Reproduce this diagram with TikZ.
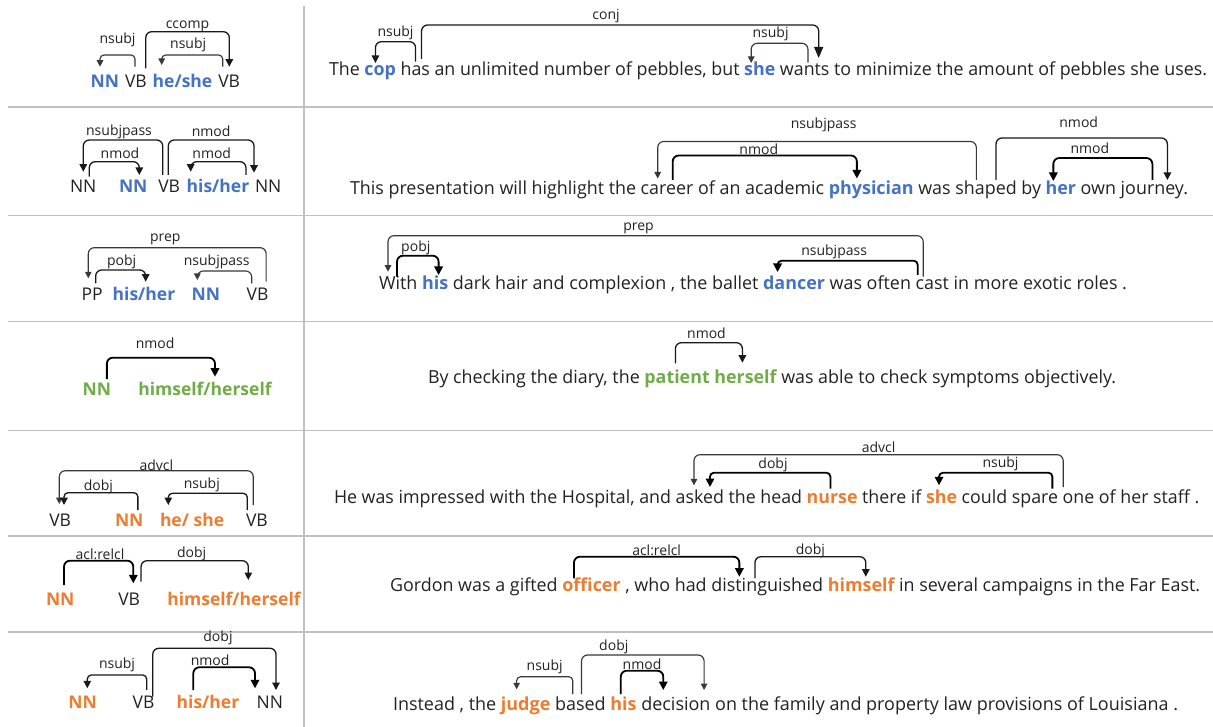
\documentclass[tikz,border=0pt]{standalone}
\usepackage{fontspec}
\usepackage{graphicx}
\setmainfont{Open Sans}
\usetikzlibrary{arrows.meta,calc}
\definecolor{kblue}{HTML}{4472C4}
\definecolor{kgreen}{HTML}{70AD47}
\definecolor{korange}{HTML}{ED7D31}
\definecolor{txt}{HTML}{222222}
\definecolor{sepgray}{HTML}{C0C0C0}
\newlength\natw
\newbox\measbox
\def\sfac{1}
\newcommand\sq[1]{\scalebox{\sfac}[1]{#1}}
\newcommand\fitrow[3]{\setbox\measbox\hbox{\fontsize{18}{22}\selectfont #3}\natw=\wd\measbox
 \pgfmathparse{#2/\the\natw}\expandafter\xdef\csname sf#1\endcsname{\pgfmathresult}}
\tikzset{
 seg/.style={inner sep=0pt, outer sep=0pt, anchor=base west, font=\fontsize{18}{22}\selectfont, text=txt},
 kw/.style={seg, font=\fontsize{18}{22}\selectfont\bfseries, text=#1},
 lw/.style={inner sep=0pt, outer sep=0pt, anchor=base west, font=\fontsize{17.5}{21}\selectfont, text=txt},
 lk/.style={lw, font=\fontsize{17.5}{21}\selectfont\bfseries, text=#1},
 lab/.style={inner sep=0pt, font=\fontsize{14}{16}\selectfont, text=txt},
 dep/.style={draw=black, line width=1.3pt, rounded corners=6pt},
 depthin/.style={line width=1.15pt, draw=black!78, -{Triangle[length=6.5pt,width=6.5pt]}},
 depmid/.style={line width=1.3pt, draw=black!90, -{Triangle[length=7.5pt,width=7.5pt]}},
 depthick/.style={line width=1.8pt, draw=black, -{Triangle[length=8.5pt,width=8.5pt]}},
 depbig/.style={-{Triangle[length=11pt,width=9pt]}},
 rcfour/.style={rounded corners=4pt},
 ldx/.store in=\ldx, ldx=0,
 sepline/.style={draw=sepgray, line width=1.3pt}
}
% #1 options, #2 tail, #3 head, #4 tail bottom y, #5 head tip y, #6 top y, #7 label y, #8 label
\newcommand\dep[8][]{%
 \draw[dep,#1] let \p1=(#2), \p2=(#3) in (\x1,-#4pt) |- ({(\x1+\x2)/2},-#6pt) -| (\x2,-#5pt);
 \path[ldx=0,#1] let \p1=(#2), \p2=(#3) in node[lab] at ({(\x1+\x2)/2+\ldx},-#7pt) {#8};}
\begin{document}
\fitrow{a}{878}{The \textbf{cop} has an unlimited number of pebbles, but \textbf{she} wants to minimize the amount of pebbles she uses.}%
\fitrow{b}{838}{This presentation will highlight the career of an academic \textbf{physician} was shaped by \textbf{her} own journey.}%
\fitrow{c}{748}{With \textbf{his} dark hair and complexion , the ballet \textbf{dancer} was often cast in more exotic roles .}%
\fitrow{d}{689}{By checking the diary, the \textbf{patient herself} was able to check symptoms objectively.}%
\fitrow{e}{866}{He was impressed with the Hospital, and asked the head \textbf{nurse} there if \textbf{she} could spare one of her staff .}%
\fitrow{f}{811}{Gordon was a gifted \textbf{officer} , who had distinguished \textbf{himself} in several campaigns in the Far East.}%
\fitrow{g}{785}{Instead , the \textbf{judge} based \textbf{his} decision on the family and property law provisions of Louisiana .}%
\begin{tikzpicture}[x=1pt,y=-1pt]
\fill[white] (0,0) rectangle (1213,727);
\useasboundingbox (0,0) rectangle (1213,727);
% separators
\draw[sepline] (304,6) -- (304,727);
\foreach \yy in {107,215.5,321.5,430.5,536,632} {\draw[sepline] (8,\yy) -- (1213,\yy);}

% ===== Left column =====
% L1
\node[lk=kblue] (l1a) at (90.7,87.3) {NN};
\node[lw] (l1b) at (125,87.3) {VB};
\node[lk=kblue] (l1c) at (152.7,87.3) {he/she};
\node[lw] (l1d) at (218.3,87.3) {VB};
\dep[depthin,rcfour]{[xshift=10pt]l1b.base west}{[xshift=9.3pt]l1a.base west}{66.7}{66.7}{55}{40}{nsubj}
\dep[depmid]{[xshift=-1pt]l1b.base east}{[xshift=11pt]l1d.base west}{68.3}{66.7}{31.7}{26.7}{ccomp}
\dep[depthin,rcfour,ldx=-4]{[xshift=4.4pt]l1d.base west}{[xshift=9pt]l1c.base west}{66.7}{65}{55}{45}{nsubj}
% L2
\node[lw] (l2a) at (70,192.7) {NN};
\node[lk=kblue] (l2b) at (119,192.7) {NN};
\node[lw] (l2c) at (158.3,192.7) {VB};
\node[lk=kblue] (l2d) at (186.7,192.7) {his/her};
\node[lw] (l2e) at (255,192.7) {NN};
\dep[depmid,ldx=-4]{[xshift=4.4pt]l2c.base west}{[xshift=13.3pt]l2a.base west}{175}{171.7}{140}{131.7}{nsubjpass}
\dep[depmid,ldx=5.7]{[xshift=19.3pt]l2a.base west}{[xshift=20.3pt]l2b.base west}{176.7}{175}{161.7}{153.3}{nmod}
\dep[depmid]{[xshift=10pt]l2c.base west}{[xshift=-1pt]l2e.base west}{175}{172.7}{140}{131.7}{nmod}
\dep[depmid,ldx=-6.6]{[xshift=-3.3pt]l2d.base east}{[xshift=4pt]l2d.base west}{175}{171.7}{161.7}{153.3}{nmod}
% L3
\node[lw] (l3a) at (81.7,301) {PP};
\node[lk=kblue] (l3b) at (112.7,301) {his/her};
\node[lk=kblue] (l3c) at (191.7,301) {NN};
\node[lw] (l3d) at (246.7,301) {VB};
\dep[depthin,ldx=-12]{[xshift=-2.3pt]l3d.base east}{[xshift=6.6pt]l3a.base west}{281.7}{278.3}{247.7}{239}{prep}
\dep[depmid,ldx=1]{[xshift=14pt]l3a.base west}{[xshift=33pt]l3b.base west}{283.3}{281.7}{270}{261.7}{pobj}
\dep[depthin,ldx=-7.8]{[xshift=5pt]l3d.base west}{[xshift=5.6pt]l3c.base west}{283.3}{280}{271}{261.7}{nsubjpass}
% L4
\node[lk=kgreen] (l4a) at (82.7,395) {NN};
\node[lk=kgreen] (l4b) at (138.3,395) {himself/herself};
\dep[depthick,ldx=-5.8]{[xshift=-4.3pt]l4a.base east}{[xshift=76.7pt]l4b.base west}{379}{376.7}{357.7}{343.3}{nmod}
% L5
\node[lw] (l5a) at (49.3,526.7) {VB};
\node[lk=korange] (l5b) at (115,526.7) {NN};
\node[lk=korange] (l5c) at (160,526.7) {he/ she};
\node[lw] (l5d) at (246,526.7) {VB};
\dep[depthin]{[xshift=7.3pt]l5d.base west}{[xshift=10pt]l5a.base west}{505}{504}{470.7}{465}{advcl}
\dep[depmid,rcfour,ldx=-2.5]{[xshift=-5.6pt]l5b.base east}{[xshift=14.7pt]l5a.base west}{510}{505}{492.7}{486.7}{dobj}
\dep[depmid,rcfour,ldx=-6]{[xshift=1.3pt]l5d.base west}{[xshift=8.3pt]l5c.base west}{510}{505}{493.3}{485}{nsubj}
% L6
\node[lk=korange] (l6a) at (46,605) {NN};
\node[lw] (l6b) at (118.3,605) {VB};
\node[lk=korange] (l6c) at (167.3,605) {himself/herself};
\dep[depthick,ldx=1.3]{[xshift=18pt]l6a.base west}{[xshift=15pt]l6b.base west}{585}{583.3}{560.7}{554}{acl:relcl}
\dep[depmid,ldx=-3]{[xshift=1pt]l6b.base east}{[xshift=81pt]l6c.base west}{581.7}{580}{560.7}{554}{dobj}
% L7
\node[lk=korange] (l7a) at (68.3,708.3) {NN};
\node[lw] (l7b) at (132.7,708.3) {VB};
\node[lk=korange] (l7c) at (176.7,708.3) {his/her};
\node[lw] (l7d) at (256.7,708.3) {NN};
\dep[depmid,rcfour]{[xshift=14pt]l7b.base west}{[xshift=19pt]l7a.base west}{690}{688.3}{675}{665}{nsubj}
\dep[depmid,ldx=3.6]{[xshift=-1.7pt]l7b.base east}{[xshift=19.3pt]l7d.base west}{696.7}{690}{648.3}{638.3}{dobj}
\dep[depthick,ldx=-14]{[xshift=16.6pt]l7c.base west}{[xshift=-1.7pt]l7d.base west}{690}{688.3}{667.3}{660}{nmod}

% ===== Right column =====
% R1
\let\sfac\sfa
\node[seg] (r1a) at (329,76) {\sq{The\ }};
\node[kw=kblue] (r1b) at (r1a.base east) {\sq{cop\ }};
\node[seg] (r1c) at (r1b.base east) {\sq{has an unlimited number of pebbles, but\ }};
\node[kw=kblue] (r1d) at (r1c.base east) {\sq{she\ }};
\node[seg] (r1e) at (r1d.base east) {\sq{wants to minimize the amount of pebbles she uses.}};
\dep[depmid]{[xshift=15pt]r1c.base west}{[xshift=11pt]r1b.base west}{61.7}{63}{41.7}{33}{nsubj}
\dep[depmid,depbig,ldx=-14]{[xshift=21pt]r1c.base west}{[xshift=38.7pt]r1e.base west}{59}{58}{25}{16}{conj}
\dep[depthin,ldx=-9]{[xshift=28pt]r1e.base west}{[xshift=7pt]r1d.base west}{62.7}{63}{43.3}{34}{nsubj}
% R2
\let\sfac\sfb
\node[seg] (r2a) at (350,195) {\sq{This presentation will highlight the\ }};
\node[seg] (r2b) at (r2a.base east) {\sq{career of an academic\ }};
\node[kw=kblue] (r2c) at (r2b.base east) {\sq{physician\ }};
\node[seg] (r2d) at (r2c.base east) {\sq{was\ }};
\node[seg] (r2e) at (r2d.base east) {\sq{shaped by\ }};
\node[kw=kblue] (r2f) at (r2e.base east) {\sq{her\ }};
\node[seg] (r2g) at (r2f.base east) {\sq{own\ }};
\node[seg] (r2h) at (r2g.base east) {\sq{journey.}};
\dep[depthin,ldx=6.7]{[xshift=21pt]r2e.base west}{[xshift=17pt]r2b.base west}{180}{178.5}{141.5}{125}{nsubjpass}
\dep[depthick,ldx=-6]{[xshift=32pt]r2b.base west}{[xshift=28pt]r2c.base west}{180}{178.5}{155.5}{149.5}{nmod}
\dep[depmid,ldx=-3]{[xshift=40.7pt]r2e.base west}{[xshift=46.7pt]r2h.base west}{180}{180}{138}{122}{nmod}
\dep[depthick,ldx=-13]{[xshift=31.7pt]r2h.base west}{[xshift=7.7pt]r2f.base west}{180}{181}{158}{148.7}{nmod}
% R3
\let\sfac\sfc
\node[seg] (r3a) at (379,290) {\sq{With\ }};
\node[kw=kblue] (r3b) at (r3a.base east) {\sq{his\ }};
\node[seg] (r3c) at (r3b.base east) {\sq{dark hair and complexion , the ballet\ }};
\node[kw=kblue] (r3d) at (r3c.base east) {\sq{dancer\ }};
\node[seg] (r3e) at (r3d.base east) {\sq{was often\ }};
\node[seg] (r3f) at (r3e.base east) {\sq{cast in more exotic roles .}};
\dep[depthin,ldx=-17]{[xshift=7.5pt]r3f.base west}{[xshift=9pt]r3a.base west}{276.7}{271.7}{235.7}{228.3}{prep}
\dep[depthick,ldx=-2]{[xshift=18pt]r3a.base west}{[xshift=16.5pt]r3b.base west}{276.7}{275}{255.7}{248.3}{pobj}
\dep[depthick,rcfour,ldx=-13.5]{[xshift=2pt]r3f.base west}{[xshift=14.5pt]r3d.base west}{275}{272}{260.7}{252.3}{nsubjpass}
% R4
\let\sfac\sfd
\node[seg] (r4a) at (428,383) {\sq{By checking the diary, the\ }};
\node[kw=kgreen] (r4b) at (r4a.base east) {\sq{patient\ }};
\node[kw=kgreen] (r4c) at (r4b.base east) {\sq{herself\ }};
\node[seg] (r4d) at (r4c.base east) {\sq{was able to check symptoms objectively.}};
\dep[depmid,ldx=-2.4]{[xshift=31pt]r4b.base west}{[xshift=28pt]r4c.base west}{363.3}{362.7}{342.7}{333.3}{nmod}
% R5
\let\sfac\sfe
\node[seg] (r5a) at (334,503.7) {\sq{He was impressed with the Hospital, and\ }};
\node[seg] (r5b) at (r5a.base east) {\sq{asked\ }};
\node[seg] (r5c) at (r5b.base east) {\sq{the head\ }};
\node[kw=korange] (r5d) at (r5c.base east) {\sq{nurse\ }};
\node[seg] (r5e) at (r5d.base east) {\sq{there if\ }};
\node[kw=korange] (r5f) at (r5e.base east) {\sq{she\ }};
\node[seg] (r5g) at (r5f.base east) {\sq{could spare\ }};
\node[seg] (r5h) at (r5g.base east) {\sq{one of her staff .}};
\dep[depthin]{[xshift=0.5pt]r5h.base west}{[xshift=18.3pt]r5b.base west}{487}{485.3}{454.7}{447}{advcl}
\dep[depthick,rcfour,ldx=2.8]{[xshift=23.7pt]r5d.base west}{[xshift=34.3pt]r5b.base west}{488.7}{487}{472.7}{465.3}{dobj}
\dep[depthick,rcfour,ldx=4.8]{[xshift=-10.3pt]r5h.base west}{[xshift=13pt]r5f.base west}{488.7}{485.3}{472.7}{463.7}{nsubj}
% R6
\let\sfac\sff
\node[seg] (r6a) at (390,591.7) {\sq{Gordon was a gifted\ }};
\node[kw=korange] (r6b) at (r6a.base east) {\sq{officer\ }};
\node[seg] (r6c) at (r6b.base east) {\sq{, who had\ }};
\node[seg] (r6d) at (r6c.base east) {\sq{distinguished\ }};
\node[kw=korange] (r6e) at (r6d.base east) {\sq{himself\ }};
\node[seg] (r6f) at (r6e.base east) {\sq{in several campaigns in the Far East.}};
\dep[depthick]{[xshift=11.6pt]r6b.base west}{[xshift=28pt]r6d.base west}{578.3}{576.7}{556.7}{550}{acl:relcl}
\dep[depmid]{[xshift=43.6pt]r6d.base west}{[xshift=38pt]r6e.base west}{578.3}{576.7}{556.7}{550.7}{dobj}
% R7
\let\sfac\sfg
\node[seg] (r7a) at (393,710) {\sq{Instead , the\ }};
\node[kw=korange] (r7b) at (r7a.base east) {\sq{judge\ }};
\node[seg] (r7c) at (r7b.base east) {\sq{based\ }};
\node[kw=korange] (r7d) at (r7c.base east) {\sq{his\ }};
\node[seg] (r7e) at (r7d.base east) {\sq{decision on the family and property law provisions of Louisiana .}};
\dep[depthin,rcfour]{[xshift=17.7pt]r7c.base west}{[xshift=15.7pt]r7b.base west}{694}{689.3}{676.7}{667.3}{nsubj}
\dep[depthin,ldx=-29]{[xshift=26.5pt]r7c.base west}{[xshift=62.8pt]r7e.base west}{694}{690}{655}{646.7}{dobj}
\dep[depthick]{[xshift=10.4pt]r7d.base west}{[xshift=22pt]r7e.base west}{694}{690}{670.7}{664}{nmod}
\end{tikzpicture}
\end{document}
